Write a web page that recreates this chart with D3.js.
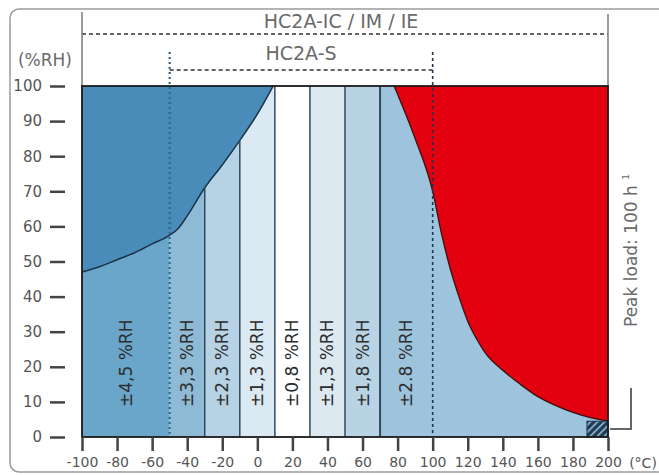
<!DOCTYPE html>
<html>
<head>
<meta charset="utf-8">
<script src="https://cdn.jsdelivr.net/npm/d3@7"></script>
<style>
  html, body { margin: 0; padding: 0; background: #fff; }
  svg { display: block; }
  text { font-family: "DejaVu Sans", "Liberation Sans", sans-serif; }
</style>
</head>
<body>
<svg id="chart" width="659" height="475"></svg>
<script>
// ---------- data ----------
const tempTicks = [-100, -80, -60, -40, -20, 0, 20, 40, 60, 80, 100, 120, 140, 160, 180, 200];
const rhTicks = [0, 10, 20, 30, 40, 50, 60, 70, 80, 90, 100];

const bandFrom = [-100, -50, -30, -10, 10, 30, 50, 70];
const bandTo   = [-50, -30, -10, 10, 30, 50, 70, 200];
const bandLabels = ["±4,5 %RH", "±3,3 %RH", "±2,3 %RH", "±1,3 %RH", "±0,8 %RH", "±1,3 %RH", "±1,8 %RH", "±2.8 %RH"];
const bandLabelT = [-75, -40, -20, 0, 20, 40, 60, 85];
const bandLabelRH = 21;

const separatorT = [-30, -10, 10, 30, 50, 70];

// lower limit curve (dark region above it)
const limitT  = [-100, -90, -80, -70, -60, -50, -45, -40, -30, -20, -10, 0, 9];
const limitRH = [47, 48.5, 50.5, 52.5, 55, 57.5, 59.5, 63, 71, 77.5, 84.5, 92, 100];

// peak-load curve (red region above it)
const peakT  = [78, 90, 100, 105, 110, 115, 120, 125, 130, 140, 150, 160, 170, 180, 190, 200];
const peakRH = [100, 85, 70, 58, 48, 40, 33, 28, 24, 19, 15, 11.5, 9, 7, 5.5, 4.5];

const hatchT = [188, 200];
const hatchRH = [0, 4.5];

const rangeICT = [-100, 200];   // HC2A-IC / IM / IE
const rangeST = [-50, 100];     // HC2A-S

const titleIC = "HC2A-IC / IM / IE";
const titleS = "HC2A-S";
const yUnit = "(%RH)";
const xUnit = "(°C)";
const peakText = "Peak load: 100 h";
const peakSup = "1";

// ---------- styles ----------
const bandColors = ["#6aa6ca", "#8fbad6", "#b6d2e4", "#dbe9f2", "#ffffff", "#dde9f1", "#b7d3e4", "#9dc4dc"];
const darkBlue = "#4a8cb9";
const red = "#e3000f";
const tickFont = "Liberation Sans, Arial, sans-serif";

// ---------- setup ----------
const svg = d3.select("#chart");
const x = d3.scaleLinear().domain([-100, 200]).range([82, 608]);
const y = d3.scaleLinear().domain([0, 100]).range([437, 86]);

// outer rounded box
svg.append("rect")
  .attr("x", 10).attr("y", 9).attr("width", 660).attr("height", 463)
  .attr("rx", 9).attr("fill", "none").attr("stroke", "#9a9a9a").attr("stroke-width", 1.5);

// pattern for hatch
const defs = svg.append("defs");
const pat = defs.append("pattern").attr("id", "hatch").attr("patternUnits", "userSpaceOnUse")
  .attr("width", 5).attr("height", 5).attr("patternTransform", "rotate(45)");
pat.append("rect").attr("width", 5).attr("height", 5).attr("fill", "#1f3a52");
pat.append("rect").attr("width", 1.6).attr("height", 5).attr("fill", "#8fb9d4");

// bands
svg.append("g").selectAll("rect").data(bandFrom).join("rect")
  .attr("x", (d) => x(d))
  .attr("width", (d, i) => x(bandTo[i]) - x(d))
  .attr("y", y(100)).attr("height", y(0) - y(100))
  .attr("fill", (d, i) => bandColors[i]);

// dark region above limit curve
const limitPts = limitT.map((t, i) => [t, limitRH[i]]);
svg.append("path").datum(limitPts)
  .attr("d", d3.area().x((d) => x(d[0])).y0(y(100)).y1((d) => y(d[1])).curve(d3.curveMonotoneX))
  .attr("fill", darkBlue);
svg.append("path").datum(limitPts)
  .attr("d", d3.line().x((d) => x(d[0])).y((d) => y(d[1])).curve(d3.curveMonotoneX))
  .attr("fill", "none").attr("stroke", "#1c3347").attr("stroke-width", 1.5);

// separators (only below the limit curve)
function limitAt(t) {
  if (t >= limitT[limitT.length - 1]) return 100;
  const i = d3.bisectRight(limitT, t) - 1;
  const f = (t - limitT[i]) / (limitT[i + 1] - limitT[i]);
  return limitRH[i] + f * (limitRH[i + 1] - limitRH[i]);
}
svg.append("g").selectAll("line").data(separatorT).join("line")
  .attr("x1", (d) => x(d)).attr("x2", (d) => x(d))
  .attr("y1", y(0)).attr("y2", (d) => y(limitAt(d)))
  .attr("stroke", "#2f4a5e").attr("stroke-width", (d) => d === 70 ? 2 : 1.5);

// red region
const peakPts = peakT.map((t, i) => [t, peakRH[i]]);
svg.append("path").datum(peakPts)
  .attr("d", d3.area().x((d) => x(d[0])).y0(y(100)).y1((d) => y(d[1])).curve(d3.curveMonotoneX))
  .attr("fill", red);
svg.append("path").datum(peakPts)
  .attr("d", d3.line().x((d) => x(d[0])).y((d) => y(d[1])).curve(d3.curveMonotoneX))
  .attr("fill", "none").attr("stroke", "#3a1010").attr("stroke-width", 1.3);

// hatch box
svg.append("rect")
  .attr("x", x(hatchT[0])).attr("width", x(hatchT[1]) - x(hatchT[0]))
  .attr("y", y(hatchRH[1])).attr("height", y(hatchRH[0]) - y(hatchRH[1]))
  .attr("fill", "url(#hatch)").attr("stroke", "#1f3a52").attr("stroke-width", 1);

// bracket to peak-load label
svg.append("path")
  .attr("d", `M${x(200) + 2},${y(2.3)} H631 V388`)
  .attr("fill", "none").attr("stroke", "#666").attr("stroke-width", 2);

// HC2A-S range lines
svg.append("line")
  .attr("x1", x(rangeST[0])).attr("x2", x(rangeST[0])).attr("y1", 52).attr("y2", y(0))
  .attr("stroke", "#2c6894").attr("stroke-width", 2.2).attr("stroke-dasharray", "2,3");
svg.append("line")
  .attr("x1", x(rangeST[1])).attr("x2", x(rangeST[1])).attr("y1", 52).attr("y2", y(0))
  .attr("stroke", "#1d3550").attr("stroke-width", 1.6).attr("stroke-dasharray", "3,3");
svg.append("line")
  .attr("x1", x(rangeST[0])).attr("x2", x(rangeST[1])).attr("y1", 70).attr("y2", 70)
  .attr("stroke", "#333").attr("stroke-width", 1.6).attr("stroke-dasharray", "4,3");

// HC2A-IC range line
svg.append("line")
  .attr("x1", x(rangeICT[0])).attr("x2", x(rangeICT[1])).attr("y1", 34).attr("y2", 34)
  .attr("stroke", "#333").attr("stroke-width", 1.6).attr("stroke-dasharray", "4,3");
// vertical side lines of top area
svg.append("line").attr("x1", x(-100)).attr("x2", x(-100)).attr("y1", 12).attr("y2", y(100))
  .attr("stroke", "#7a7a7a").attr("stroke-width", 1.5);
svg.append("line").attr("x1", x(200)).attr("x2", x(200)).attr("y1", 14).attr("y2", y(100))
  .attr("stroke", "#7a7a7a").attr("stroke-width", 1.5);

// plot border
svg.append("rect")
  .attr("x", x(-100)).attr("y", y(100))
  .attr("width", x(200) - x(-100)).attr("height", y(0) - y(100))
  .attr("fill", "none").attr("stroke", "#1a1a1a").attr("stroke-width", 1.8);

// band labels
svg.append("g").selectAll("text").data(bandLabels).join("text")
  .attr("transform", (d, i) => `translate(${x(bandLabelT[i]) + 6},${y(bandLabelRH)}) rotate(-90)`)
  .attr("text-anchor", "middle")
  .attr("font-size", 17).attr("fill", "#2d2d2d")
  .text((d) => d);

// titles
svg.append("text").attr("x", 341).attr("y", 28).attr("text-anchor", "middle")
  .attr("font-size", 19).attr("fill", "#6a6a6a").text(titleIC);
svg.append("text").attr("x", 301).attr("y", 60).attr("text-anchor", "middle")
  .attr("font-size", 19).attr("fill", "#6a6a6a").text(titleS);
svg.append("text").attr("x", 45).attr("y", 66).attr("text-anchor", "middle")
  .attr("font-size", 17).attr("fill", "#6a6a6a").text(yUnit);

// axes
const yAxis = d3.axisLeft(y).tickValues(rhTicks).tickSize(15).tickPadding(8).tickFormat(d3.format("d"));
const gy = svg.append("g").attr("transform", "translate(65,0)").call(yAxis);
gy.select(".domain").remove();
gy.selectAll("line").attr("stroke", "#444").attr("stroke-width", 2.5);
gy.selectAll("text").attr("font-size", 15).attr("fill", "#555").attr("font-family", tickFont);

const xAxis = d3.axisBottom(x).tickValues(tempTicks).tickSize(14).tickPadding(6)
  .tickFormat((d) => String(d));
const gx = svg.append("g").attr("transform", `translate(0,${y(0)})`).call(xAxis);
gx.select(".domain").remove();
gx.selectAll("line").attr("stroke", "#444").attr("stroke-width", 2.5);
gx.selectAll("text").attr("font-size", 14).attr("fill", "#555").attr("font-family", tickFont);

svg.append("text").attr("x", 643).attr("y", 468).attr("text-anchor", "middle")
  .attr("font-size", 14).attr("fill", "#555").attr("font-family", tickFont).text(xUnit);

// peak load text
const pt = svg.append("text")
  .attr("transform", "translate(637,327) rotate(-90)")
  .attr("font-size", 17).attr("fill", "#6a6a6a");
pt.append("tspan").text(peakText + " ");
pt.append("tspan").attr("font-size", 9).attr("dy", -8).text(peakSup);
</script>
</body>
</html>
